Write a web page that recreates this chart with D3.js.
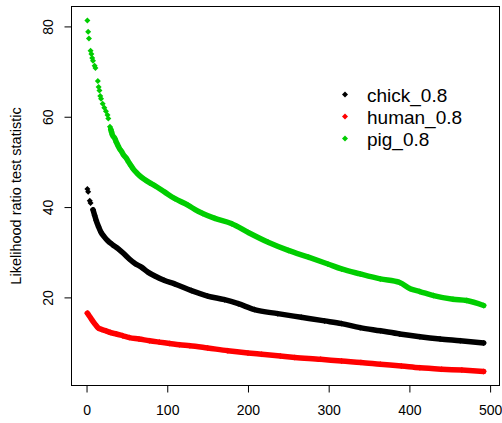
<!DOCTYPE html>
<html>
<head>
<meta charset="utf-8">
<script src="https://cdn.jsdelivr.net/npm/d3@7"></script>
<style>
  body { margin: 0; background: #fff; }
  svg { display: block; font-family: "Liberation Sans", Arial, sans-serif; }
</style>
</head>
<body>
<svg id="chart" width="502" height="423"></svg>
<script>
// values (rank -> statistic)
const seriesNames = ["chick_0.8", "human_0.8", "pig_0.8"];
const seriesColors = ["#000000", "#ff0000", "#00cd00"];

const chickIdx = [1, 2, 4, 5, 8, 10, 12, 15, 18, 22, 26, 32, 39, 46, 53, 60, 68, 76, 84, 96, 109, 130, 150, 171, 188, 208, 237, 266, 295, 316, 339, 364, 388, 413, 438, 463, 492];
const chickVal = [44.0, 43.4, 41.4, 40.9, 39.4, 38.2, 37.0, 35.6, 34.4, 33.4, 32.6, 31.7, 30.8, 29.7, 28.5, 27.5, 26.7, 25.6, 24.8, 23.8, 23.0, 21.5, 20.3, 19.5, 18.6, 17.3, 16.4, 15.6, 14.8, 14.2, 13.3, 12.6, 11.9, 11.3, 10.8, 10.4, 9.9];

const humanIdx = [1, 3, 6, 10, 14, 19, 24, 30, 37, 45, 53, 65, 78, 90, 103, 115, 128, 150, 175, 200, 217, 240, 258, 290, 316, 340, 364, 390, 413, 440, 465, 492];
const humanVal = [16.5, 16.0, 15.2, 14.2, 13.3, 12.9, 12.6, 12.2, 11.9, 11.5, 11.1, 10.8, 10.4, 10.1, 9.8, 9.5, 9.3, 8.8, 8.2, 7.7, 7.4, 7.0, 6.7, 6.3, 5.9, 5.6, 5.2, 4.8, 4.4, 4.1, 3.9, 3.6];

const pigIdx = [1, 2, 3, 5, 6, 7, 8, 10, 11, 14, 15, 16, 17, 18, 20, 22, 24, 26, 27, 29, 30, 31, 32, 35, 37, 39, 41, 43, 46, 49, 52, 55, 58, 62, 66, 72, 78, 84, 97, 109, 126, 134, 144, 159, 180, 200, 225, 250, 275, 299, 316, 339, 364, 388, 401, 413, 430, 454, 471, 492];
const pigVal = [81.3, 78.8, 77.3, 74.6, 73.9, 73.0, 72.4, 71.3, 70.8, 67.9, 66.6, 65.8, 64.6, 64.0, 62.9, 62.0, 61.2, 60.4, 59.6, 57.8, 57.2, 56.6, 56.0, 55.2, 54.3, 53.6, 52.9, 52.4, 51.5, 50.9, 50.0, 49.2, 48.4, 47.6, 46.9, 46.1, 45.4, 44.8, 43.3, 41.9, 40.4, 39.5, 38.6, 37.5, 36.3, 34.4, 32.2, 30.4, 28.9, 27.4, 26.3, 25.2, 24.1, 23.3, 21.9, 21.3, 20.4, 19.6, 19.3, 18.2];

// rank where the points become a solid band
const solidFrom = [8, 1, 30];

const xTicks = [0, 100, 200, 300, 400, 500];
const yTicks = [20, 40, 60, 80];
const yLabel = "Likelihood ratio test statistic";

const idxs = [chickIdx, humanIdx, pigIdx];
const vals = [chickVal, humanVal, pigVal];
const series = seriesNames.map((name, s) => ({
  name,
  color: seriesColors[s],
  solidFrom: solidFrom[s],
  points: idxs[s].map((r, i) => ({ r, v: vals[s][i] }))
}));

const svg = d3.select("#chart");
const plot = { left: 71.5, right: 499.5, top: 6.5, bottom: 385.5 };

// R style 4% padding on both axes
function pad(ext) {
  const d = (ext[1] - ext[0]) * 0.04;
  return [ext[0] - d, ext[1] + d];
}
const allR = idxs.flat();
const allV = vals.flat();

const x = d3.scaleLinear().domain(pad(d3.extent(allR))).range([plot.left, plot.right]);
const y = d3.scaleLinear().domain(pad(d3.extent(allV))).range([plot.bottom, plot.top]);

// x axis
const xAxis = svg.append("g")
  .attr("transform", `translate(0,${plot.bottom})`)
  .call(d3.axisBottom(x).tickValues(xTicks).tickSize(7).tickPadding(13).tickSizeOuter(0));
xAxis.select(".domain").remove();
xAxis.selectAll("text").attr("font-size", 14).attr("fill", "#000");
xAxis.selectAll("line").attr("stroke", "#000");

// y axis, labels rotated like R
const yAxis = svg.append("g")
  .attr("transform", `translate(${plot.left},0)`)
  .call(d3.axisLeft(y).tickValues(yTicks).tickSize(7).tickSizeOuter(0));
yAxis.select(".domain").remove();
yAxis.selectAll("line").attr("stroke", "#000");
yAxis.selectAll("text")
  .attr("font-size", 14)
  .attr("fill", "#000")
  .attr("x", 0).attr("dy", null)
  .attr("text-anchor", "middle")
  .attr("transform", "translate(-19,0) rotate(-90)");

svg.append("text")
  .attr("transform", `translate(21,${(plot.top + plot.bottom) / 2}) rotate(-90)`)
  .attr("text-anchor", "middle")
  .attr("font-size", 14.5)
  .attr("fill", "#000")
  .text(yLabel);

// box
svg.append("rect")
  .attr("x", plot.left).attr("y", plot.top)
  .attr("width", plot.right - plot.left).attr("height", plot.bottom - plot.top)
  .attr("fill", "none").attr("stroke", "#000").attr("stroke-width", 1);

const diamond = (cx, cy, h) => `M${cx},${cy - h}L${cx + h},${cy}L${cx},${cy + h}L${cx - h},${cy}Z`;

const line = d3.line().curve(d3.curveMonotoneX).x(d => x(d.r)).y(d => y(d.v));

const g = svg.append("g");
series.forEach(s => {
  g.append("path")
    .datum(s.points.filter(d => d.r >= s.solidFrom))
    .attr("d", line)
    .attr("fill", "none")
    .attr("stroke", s.color)
    .attr("stroke-width", 5.5)
    .attr("stroke-linejoin", "round")
    .attr("stroke-linecap", "round");
  g.selectAll(null)
    .data(s.points)
    .join("path")
    .attr("d", d => diamond(x(d.r), y(d.v), 3))
    .attr("fill", s.color);
});

// legend
const legend = svg.append("g");
series.forEach((s, i) => {
  const ly = 94.5 + i * 22;
  legend.append("path").attr("d", diamond(345, ly, 3)).attr("fill", s.color);
  legend.append("text")
    .attr("x", 367).attr("y", ly + 7)
    .attr("font-size", 19)
    .attr("fill", "#000")
    .text(s.name);
});
</script>
</body>
</html>
